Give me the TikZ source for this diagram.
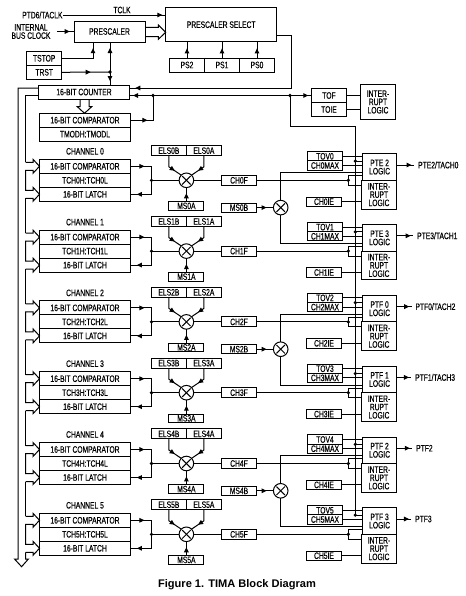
\documentclass[tikz,border=0pt]{standalone}
\usepackage{fontspec}
\setmainfont[FakeStretch=0.72,FakeBold=0.3]{Liberation Sans}
\newfontfamily\capfont{Liberation Sans}
\usetikzlibrary{calc,arrows.meta,decorations.markings}
\tikzset{
    lab/.style={inner sep=0pt,font=\fontsize{7}{6.2}\selectfont,align=center},
    cell/.style 2 args={draw,lab,outer sep=0pt,minimum width=#1*0.75pt,minimum height=#2*0.75pt},
    xring/.style={draw,circle,inner sep=0pt,outer sep=0pt,minimum size=14.6*0.75pt},
    tipat/.style={postaction={decorate,decoration={markings,mark=at position #1 with {\arrow{Triangle[length=3.8pt,width=3.4pt]}}}}}
}
\begin{document}
\begin{tikzpicture}[x=0.75pt,y=-0.75pt,line width=0.75pt]
    \useasboundingbox (0,0) rectangle (465,596);
    \node[cell={71}{21}] (presc) at (109.5,31.5) {PRESCALER};
    \node[cell={111.5}{34.5}] (sel) at (221.2,24.7) {PRESCALER SELECT};
    \node[cell={35}{14}] (ps2) at (187,65) {PS2};
    \node[cell={35}{14}] (ps1) at (222,65) {PS1};
    \node[cell={35}{14}] (ps0) at (257,65) {PS0};
    \node[cell={35.5}{14}] (tstop) at (44.2,58.3) {TSTOP};
    \node[cell={35.5}{14}] (trst) at (44.2,72.3) {TRST};
    \node[cell={91}{14}] (cnt) at (84,92) {16-BIT COUNTER};
    \node[cell={91}{14}] (cmpt) at (85,120.2) {16-BIT COMPARATOR};
    \node[cell={91}{14}] (tmod) at (85,134.2) {TMODH:TMODL};
    \node[cell={35}{14}] (tof) at (329,95.5) {TOF};
    \node[cell={35}{14}] (toie) at (329,109.5) {TOIE};
    \node[cell={35}{35}] (tint) at (378,102) {INTER-\\RUPT\\LOGIC};
    \node[lab,anchor=east] (ptd) at (63,15) {PTD6/TACLK};
    \node[lab] (tclk) at (122,10) {TCLK};
    \node[lab] (busclk) at (31,31.5) {INTERNAL\\BUS CLOCK};
    \node[font=\capfont\bfseries\fontsize{8.3}{10}\selectfont,inner sep=0pt] (title) at (237,585) {Figure 1. TIMA Block Diagram};
    \coordinate (busout) at (57,31.5);
    \coordinate (prein) at (93,42);
    \coordinate (jp) at (110,72);
    \coordinate (selout) at (277,35);
    \coordinate (cnta) at (129.5,88);
    \coordinate (cntb) at (129.5,95.5);
    \coordinate (jc) at (153,95.5);
    \coordinate (jtof) at (290,95.5);
    \coordinate (bustop) at (355.3,126.5);
    \coordinate (busend) at (355.3,515.5);
    \draw[tipat=0.97] (ptd.east) -- (sel.west |- ptd.east);
    \draw[tipat=0.75] (busout) -- (presc.west);
    \draw[tipat=0.87] (tstop.east) -| (prein);
    \draw[tipat=0.6] (trst.east) -- (jp);
    \draw[tipat=0.8] (jp) -- (jp |- presc.south);
    \draw[tipat=0.7] (jp) -- (jp |- cnt.north);
    \draw[tipat=0.6] (ps2.north) -- (ps2 |- sel.south);
    \draw[tipat=0.6] (ps1.north) -- (ps1 |- sel.south);
    \draw[tipat=0.6] (ps0.north) -- (ps0 |- sel.south);
    \draw (145,27.3) -- (158.3,27.3) -- (158.3,25) -- (165.7,32.3) -- (158.3,39.3) -- (158.3,36.7) -- (145,36.7);
    \draw (80,99) -- (80,106.7) -- (77.3,106.7) -- (84.5,113.3) -- (91.7,106.7) -- (89,106.7) -- (89,99);
    \draw[tipat=0.975] (selout) -| (291.5,88) -- (cnta);
    \draw[tipat=0.85] (jc) -- (cntb);
    \draw[tipat=0.98] (jc) -- (tof.west);
    \draw[tipat=0.36] (cmpt.east) -| (jc);
    \draw (jtof) |- (bustop) -- (busend);
    \draw (tof.east) -- (tof.east -| tint.west);
    \draw (toie.east) -- (toie.east -| tint.west);
    \fill (jp) circle (1.8);
    \fill (jc) circle (1.8);
    \fill (jtof) circle (1.8);
    \draw (cnt.west |- cnta) -- (18,88) -- (18,559) -- (14.5,559) -- (21.6,566.7) -- (28.4,559) -- (25.7,559) -- (25.7,552.3);
    \draw (cnt.west |- cntb) -- (25.7,95.5) -- (25.7,162.3);
    \foreach \c/\logic/\lab/\labx in {0/PTE 2/{PTE2/TACH0}/417.7,1/PTE 3/{PTE3/TACH1}/416.7,2/PTF 0/{PTF0/TACH2}/415,3/PTF 1/{PTF1/TACH3}/414.7,4/PTF 2/PTF2/415.7,5/PTF 3/PTF3/414.7} {
        \pgfmathsetmacro{\yy}{159.3+70.8*\c}
        \node[lab] (chan\c) at (85,\yy-8) {CHANNEL \c};
        \node[cell={91}{14}] (cmp\c) at (85,\yy+7) {16-BIT COMPARATOR};
        \node[cell={91}{14}] (tch\c) at (85,\yy+21) {TCH\c H:TCH\c L};
        \node[cell={91}{14}] (lat\c) at (85,\yy+35) {16-BIT LATCH};
        \node[cell={35}{10}] (elsb\c) at (168.9,\yy-8.6) {ELS\c B};
        \node[cell={35}{10}] (elsa\c) at (203.9,\yy-8.6) {ELS\c A};
        \node[xring] (xor\c) at (186.4,\yy+21) {};
        \node[cell={35}{8.6}] (ms\c) at (186.4,\yy+46.6) {MS\c A};
        \node[cell={35}{10}] (chf\c) at (239,\yy+21) {CH\c F};
        \node[cell={35.4}{9.2}] (tov\c) at (325,\yy-3) {TOV\c};
        \node[cell={35.4}{9.2}] (max\c) at (325,\yy+6.2) {CH\c MAX};
        \node[cell={35.4}{9.4}] (ie\c) at (324,\yy+42.4) {CH\c IE};
        \node[cell={34.2}{26.5}] (logic\c) at (379.6,\yy+7.75) {\logic\\LOGIC};
        \node[cell={35.4}{28.7}] (irq\c) at (379,\yy+35.35) {INTER-\\RUPT\\LOGIC};
        \node[lab,anchor=west] (out\c) at (\labx,\yy+5.7) {\lab};
        \coordinate (jl\c) at (151.5,\yy+21);
        \coordinate (jr\c) at (348.3,\yy+21);
        \coordinate (jb\c) at (355.3,\yy+1.8);
        \coordinate (kb\c) at (168.9,\yy+7.5);
        \coordinate (ka\c) at (203.9,\yy+7.5);
        \draw[tipat=0.4] (cmp\c.east) -| (jl\c);
        \draw[tipat=0.82] (jl\c) |- (lat\c.east);
        \draw (jl\c) -- (xor\c.west);
        \draw[tipat=0.7] (elsb\c.south) -- (kb\c) -- (xor\c.135);
        \draw[tipat=0.7] (elsa\c.south) -- (ka\c) -- (xor\c.45);
        \draw[tipat=0.6] (ms\c.north) -- (xor\c.south);
        \draw[shorten <=1pt,shorten >=1pt] (xor\c.45) -- (xor\c.225);
        \draw[shorten <=1pt,shorten >=1pt] (xor\c.135) -- (xor\c.315);
        \draw (xor\c.east) -- (chf\c.west);
        \draw (chf\c.east) -- (jr\c);
        \draw (jr\c) |- (362.5,\yy+16.4);
        \draw (jr\c) |- (361.3,\yy+26);
        \draw (tov\c.east) -- (tov\c.east -| logic\c.west);
        \draw (max\c.east) -- (max\c.east -| logic\c.west);
        \draw (jb\c) -- (jb\c -| logic\c.west);
        \draw (ie\c.east) -- (ie\c.east -| irq\c.west);
        \draw[tipat=0.85] (out\c.west -| logic\c.east) -- ($(out\c.west)+(-3.5,0)$);
        \fill (jl\c) circle (1.8);
        \fill (jr\c) circle (1.8);
        \fill (jb\c) circle (1.8);
        \draw (25.7,\yy+3) -- (33,\yy+3) -- (33,\yy) -- (39.5,\yy+7) -- (33,\yy+14) -- (33,\yy+11) -- (25.7,\yy+11) -- (25.7,\yy+31) -- (33,\yy+31) -- (33,\yy+28) -- (39.5,\yy+35) -- (33,\yy+42) -- (33,\yy+39) -- (25.7,\yy+39);
    }
    \foreach \c in {0,...,4} {
        \pgfmathsetmacro{\yy}{159.3+70.8*\c}
        \draw (25.7,\yy+39) -- (25.7,\yy+73.8);
    }
    \foreach \c/\d in {0/1,2/3,4/5} {
        \pgfmathsetmacro{\yy}{159.3+70.8*\c}
        \node[cell={35}{9}] (msb\c) at (239,\yy+48.3) {MS\c B};
        \node[xring] (xb\c) at (280.7,\yy+48.3) {};
        \draw[tipat=0.6] (msb\c.east) -- (xb\c.west);
        \draw[shorten <=1pt,shorten >=1pt] (xb\c.45) -- (xb\c.225);
        \draw[shorten <=1pt,shorten >=1pt] (xb\c.135) -- (xb\c.315);
        \draw (xb\c.north) |- (362.5,\yy+13.3);
        \draw (xb\c.south) |- (362.5,\yy+84.1);
    }
\end{tikzpicture}
\end{document}
